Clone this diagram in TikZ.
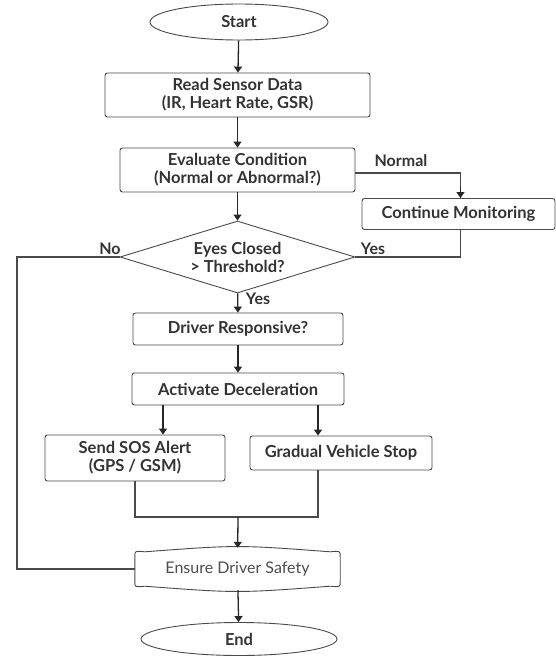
\documentclass[tikz,border=0pt]{standalone}
\usepackage{fontspec}
\setmainfont{Lato}
\usetikzlibrary{shapes.geometric,arrows.meta}
\definecolor{ink}{HTML}{333333}
\definecolor{edge}{HTML}{4A4A4A}
\begin{document}
\begin{tikzpicture}[x=1pt,y=-1pt,
  txt/.style={font=\bfseries\fontsize{16.5}{18}\selectfont, text=ink, align=center},
  box/.style={txt, draw=edge, line width=0.9pt, rounded corners=2.5pt, inner sep=0pt},
  term/.style={txt, ellipse, draw=edge, line width=0.9pt, inner sep=0pt},
  dec/.style={txt, diamond, draw=edge, line width=0.9pt, inner sep=0pt, aspect=3.2},
  arr/.style={draw=black!85, line width=1.3pt, -{Triangle[width=8pt,length=6pt]}},
  ln/.style={draw=edge, line width=1.1pt},
  lab/.style={font=\bfseries\fontsize{16}{18}\selectfont, text=ink}
]
\useasboundingbox (0,0) rectangle (556,656);

\node[term, minimum width=178pt, minimum height=36pt] (start) at (239,22) {Start};
\node[box, minimum width=265pt, minimum height=44pt] (read) at (237.5,95) {Read Sensor Data\\(IR, Heart Rate, GSR)};
\node[box, minimum width=235pt, minimum height=44pt] (eval) at (237.5,170) {Evaluate Condition\\(Normal or Abnormal?)};
\node[box, minimum width=193pt, minimum height=31pt] (cont) at (458.5,214) {Continue Monitoring};
\node[dec, minimum width=235pt, minimum height=72pt] (dia) at (237.5,257) {Eyes Closed\\{>} Threshold?};
\node[box, minimum width=210pt, minimum height=32pt] (drv) at (238,329) {Driver Responsive?};
\node[box, minimum width=212pt, minimum height=32pt] (act) at (238,389) {Activate Deceleration};
\node[box, minimum width=180pt, minimum height=46pt] (sos) at (135,458) {Send SOS Alert\\(GPS / GSM)};
\node[box, minimum width=182pt, minimum height=34pt] (grad) at (341,453) {Gradual Vehicle Stop};
\node[txt, font=\fontsize{16}{18}\selectfont, text=black!70, minimum width=205pt, minimum height=42pt, inner sep=0pt] (ens) at (237.5,569) {Ensure Driver Safety};
\node[term, minimum width=196pt, minimum height=33pt] (end) at (239,639) {End};

% custom outline for Ensure Driver Safety
\draw[draw=edge, line width=0.9pt]
  ([yshift=-9]ens.north west)
  .. controls ([yshift=-3]ens.north west) .. ([xshift=10,yshift=-4]ens.north west)
  .. controls ([yshift=3]ens.north) .. ([xshift=-10,yshift=-4]ens.north east)
  .. controls ([yshift=-3]ens.north east) .. ([yshift=-9]ens.north east)
  -- ([yshift=9]ens.south east)
  .. controls ([yshift=3]ens.south east) .. ([xshift=-10,yshift=4]ens.south east)
  .. controls ([yshift=-3]ens.south) .. ([xshift=10,yshift=4]ens.south west)
  .. controls ([yshift=3]ens.south west) .. ([yshift=9]ens.south west)
  -- cycle;

\coordinate (lft) at (17,257);
\coordinate (mrg) at (238,517);

\draw[arr] (start) -- (read);
\draw[arr] (read) -- (eval);
\draw[arr] (eval) -- (dia);
\draw[ln] ([yshift=-3]eval.east) -| ([xshift=2]cont.north);
\draw[arr] ([xshift=2,yshift=12]cont.north) -- ([xshift=2]cont.north);
\node[lab] (lnormal) at (401,161) {Normal};
\draw[ln] ([xshift=2]cont.south) |- (dia.east);
\node[lab] (lyes1) at (373,249) {Yes};
\draw[ln] (dia.west) -- (lft) |- (ens.west);
\node[lab] (lno) at (110,249) {No};
\draw[arr] (dia) -- (drv);
\node[lab] (lyes2) at (258,299) {Yes};
\draw[arr] (drv) -- (act);
\draw[arr] ([xshift=-75]act.south) -- ([xshift=-75]act.south |- sos.north);
\draw[arr] ([xshift=80]act.south) -- ([xshift=80]act.south |- grad.north);
\draw[ln] (sos.south) |- (mrg);
\draw[ln] ([xshift=-23]grad.south) |- (mrg);
\draw[arr] (mrg) -- (ens);
\draw[arr] (ens) -- (end);
\end{tikzpicture}
\end{document}
